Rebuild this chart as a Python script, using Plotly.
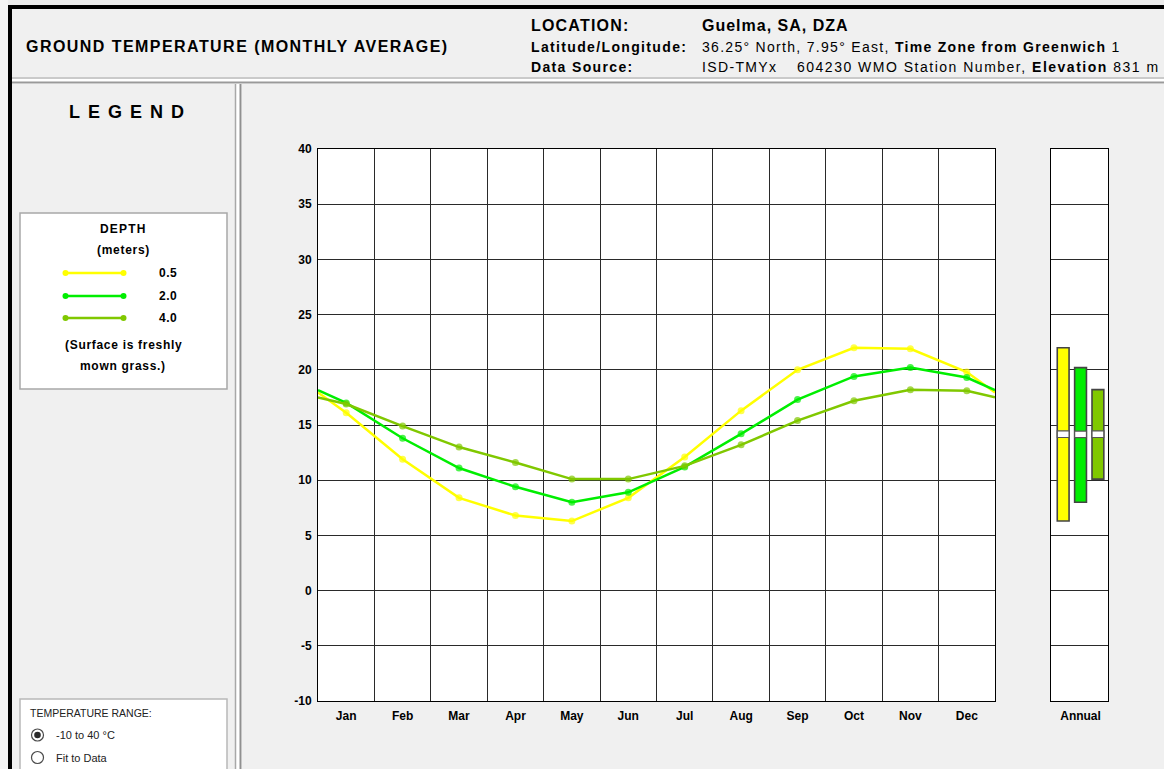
import plotly.graph_objects as go

W, H = 1164, 769

# ---- data -------------------------------------------------------------
months = ["Jan", "Feb", "Mar", "Apr", "May", "Jun",
          "Jul", "Aug", "Sep", "Oct", "Nov", "Dec"]
depth_labels = ["0.5", "2.0", "4.0"]
temp_0_5m = [16.1, 11.9, 8.4, 6.8, 6.3, 8.4, 12.1, 16.3, 20.0, 22.0, 21.9, 19.8]
temp_2_0m = [17.0, 13.8, 11.1, 9.4, 8.0, 8.9, 11.2, 14.2, 17.3, 19.4, 20.2, 19.3]
temp_4_0m = [16.9, 14.9, 13.0, 11.6, 10.1, 10.1, 11.3, 13.2, 15.4, 17.2, 18.2, 18.1]
y_ticks = [-10, -5, 0, 5, 10, 15, 20, 25, 30, 35, 40]
y_tick_text = ["-10", "-5", "0", "5", "10", "15", "20", "25", "30", "35", "40"]

series = [temp_0_5m, temp_2_0m, temp_4_0m]
colors = ["#ffff00", "#00ee00", "#80c800"]

FONT = "Arial, Liberation Sans, sans-serif"
GRID = "#2a2a2a"


def px(x):
    return x / W


def py(y):
    return 1 - y / H


fig = go.Figure()

# ---- monthly lines (wrapped so the year closes at both edges) ---------
for vals, col, lab in zip(series, colors, depth_labels):
    edge = (vals[0] + vals[-1]) / 2
    xs = [0] + [i + 0.5 for i in range(12)] + [12]
    ys = [edge] + vals + [edge]
    sizes = [0] + [7] * 12 + [0]
    fig.add_trace(go.Scatter(
        x=xs, y=ys, mode="lines+markers", name=lab,
        line=dict(color=col, width=2.5),
        marker=dict(color=col, size=sizes, line=dict(width=0)),
        xaxis="x", yaxis="y", showlegend=False, hoverinfo="skip"))

# ---- annual range bars with mean marker -------------------------------
for i, (vals, col) in enumerate(zip(series, colors)):
    lo, hi = min(vals), max(vals)
    mean = sum(vals) / len(vals)
    fig.add_trace(go.Bar(
        x=[i + 1], y=[hi - lo], base=[lo], width=0.68,
        marker=dict(color=col, line=dict(color="#444444", width=1.6)),
        xaxis="x2", yaxis="y2", showlegend=False, hoverinfo="skip"))
    fig.add_trace(go.Bar(
        x=[i + 1], y=[0.6], base=[mean - 0.3], width=0.68,
        marker=dict(color="#ffffff", line=dict(color="#555555", width=1.2)),
        xaxis="x2", yaxis="y2", showlegend=False, hoverinfo="skip"))

y_dom = [py(701), py(149)]
axis_common = dict(showline=True, mirror=True, linecolor="#000000", linewidth=1,
                   zeroline=False, ticks="", fixedrange=True, automargin=False)

fig.update_layout(
    width=W, height=H,
    margin=dict(l=0, r=0, t=0, b=0, pad=0, autoexpand=False),
    paper_bgcolor="#f0f0f0", plot_bgcolor="#ffffff",
    barmode="overlay", showlegend=False,
    font=dict(family=FONT, color="#000000"),
    xaxis=dict(domain=[px(318), px(995)], anchor="y", range=[0, 12],
               tickmode="array", tickvals=[i + 0.5 for i in range(12)],
               ticktext=months, showgrid=False,
               minor=dict(tickvals=list(range(13)), showgrid=True,
                          gridcolor=GRID, gridwidth=1, ticks=""),
               tickfont=dict(size=12, family=FONT, weight="bold"),
               ticklabelstandoff=4, **axis_common),
    yaxis=dict(domain=y_dom, anchor="x", range=[-10, 40],
               tickmode="array", tickvals=y_ticks, ticktext=y_tick_text,
               showgrid=True, gridcolor=GRID, gridwidth=1,
               tickfont=dict(size=12, family=FONT, weight="bold"),
               ticklabelstandoff=3, **axis_common),
    xaxis2=dict(domain=[px(1051), px(1108)], anchor="y2", range=[0.3, 3.58],
                tickmode="array", tickvals=[2], ticktext=["Annual"],
                showgrid=False,
                tickfont=dict(size=12, family=FONT, weight="bold"),
                ticklabelstandoff=4, **axis_common),
    yaxis2=dict(domain=y_dom, anchor="x2", range=[-10, 40],
                tickmode="array", tickvals=y_ticks, showgrid=True,
                gridcolor=GRID, gridwidth=1, showticklabels=False,
                **axis_common),
)

# ---- frame and panel shapes -------------------------------------------
shapes = []


def rect(x0, y0, x1, y1, fill=None, line=None, lw=1):
    shapes.append(dict(type="rect", xref="paper", yref="paper",
                       x0=px(x0), x1=px(x1), y0=py(y1), y1=py(y0),
                       fillcolor=fill or "rgba(0,0,0,0)",
                       line=dict(color=line or "rgba(0,0,0,0)",
                                 width=lw if line else 0),
                       layer="above"))


def hline(x0, x1, y, col, lw=1):
    shapes.append(dict(type="line", xref="paper", yref="paper",
                       x0=px(x0), x1=px(x1), y0=py(y), y1=py(y),
                       line=dict(color=col, width=lw), layer="above"))


def vline(x, y0, y1, col, lw=1):
    shapes.append(dict(type="line", xref="paper", yref="paper",
                       x0=px(x), x1=px(x), y0=py(y0), y1=py(y1),
                       line=dict(color=col, width=lw), layer="above"))


def circle(cx, cy, r, fill, line=None, lw=1):
    shapes.append(dict(type="circle", xref="paper", yref="paper",
                       x0=px(cx - r), x1=px(cx + r), y0=py(cy + r), y1=py(cy - r),
                       fillcolor=fill,
                       line=dict(color=line or fill, width=lw if line else 0),
                       layer="above"))


# outer window edge
rect(0, 0, W, 5, fill="#ececec")
rect(0, 0, 8, H, fill="#f4f4f4")
rect(8, 5, W, 9, fill="#000000")
rect(8, 5, 12, H, fill="#000000")

# header separator (double rule)
rect(12, 77, W, 84, fill="#ffffff")
hline(12, W, 78, "#b8b8b8", 1.5)
hline(12, W, 82.5, "#9a9a9a", 2)

# left panel separator (double rule)
rect(235, 84, 242, H, fill="#ffffff")
vline(235.5, 84, H, "#a8a8a8", 1.5)
vline(240.5, 84, H, "#909090", 2)

# legend box
rect(20, 213, 227, 389, fill="#ffffff", line="#a8a8a8", lw=1.5)
# temperature range box
rect(20, 699, 227, H + 5, fill="#ffffff", line="#b8b8b8", lw=1.5)

# legend line samples
for col, yy in zip(colors, [273, 296, 318]):
    hline(65.5, 123.5, yy, col, 2.5)
    circle(65.5, yy, 3, col)
    circle(123.5, yy, 3, col)

# radio buttons
circle(37.5, 735, 6, "#ffffff", line="#4a4a4a", lw=1.2)
circle(37.5, 735, 3.3, "#2a2a2a")
circle(37.5, 757.5, 6, "#ffffff", line="#4a4a4a", lw=1.2)

fig.update_layout(shapes=shapes)

# ---- text -------------------------------------------------------------
anns = []


def text(x, y, s, size=12, anchor="left", bold=False, spacing=0.0,
         family=FONT, color="#000000"):
    body = f"<b>{s}</b>" if bold else s
    if spacing:
        body = f'<span style="letter-spacing:{spacing}px">{body}</span>'
    anns.append(dict(xref="paper", yref="paper", x=px(x), y=py(y),
                     xanchor=anchor, yanchor="middle", showarrow=False,
                     text=body, font=dict(size=size, family=family, color=color)))


text(24, 47, "GROUND TEMPERATURE (MONTHLY AVERAGE)", size=16, bold=True, spacing=1.45)
text(529, 26, "LOCATION:", size=16, bold=True, spacing=1.2)
text(700, 26, "Guelma, SA, DZA", size=16, bold=True, spacing=1.0)
text(529, 46.5, "Latitude/Longitude:", size=14, bold=True, spacing=1.35)
text(700, 46.5, "36.25° North, 7.95° East, <b>Time Zone from Greenwich</b> 1",
     size=14, spacing=1.3)
text(529, 67, "Data Source:", size=14, bold=True, spacing=1.35)
text(700, 67, "ISD-TMYx", size=14, spacing=1.35)
text(795, 67, "604230 WMO Station Number, <b>Elevation</b> 831 m", size=14, spacing=1.5)

text(67, 112, "LEGEND", size=18, bold=True, spacing=8)

text(123, 228.5, "DEPTH", size=12, anchor="center", bold=True, spacing=1.2)
text(123, 250, "(meters)", size=12, anchor="center", bold=True, spacing=0.7)
for lab, yy in zip(depth_labels, [273, 296, 318]):
    text(168, yy, lab, size=12, anchor="center", bold=True, spacing=0.5)
text(123, 345, "(Surface is freshly", size=12, anchor="center", bold=True, spacing=0.7)
text(123, 366, "mown grass.)", size=12, anchor="center", bold=True, spacing=0.7)

text(28, 713, "TEMPERATURE RANGE:", size=10.5, color="#222222")
text(54, 735, "-10 to 40 °C", size=11, color="#222222")
text(54, 757.5, "Fit to Data", size=11, color="#222222")

fig.update_layout(annotations=anns)

fig.write_html("out.html", config={"displayModeBar": False})
